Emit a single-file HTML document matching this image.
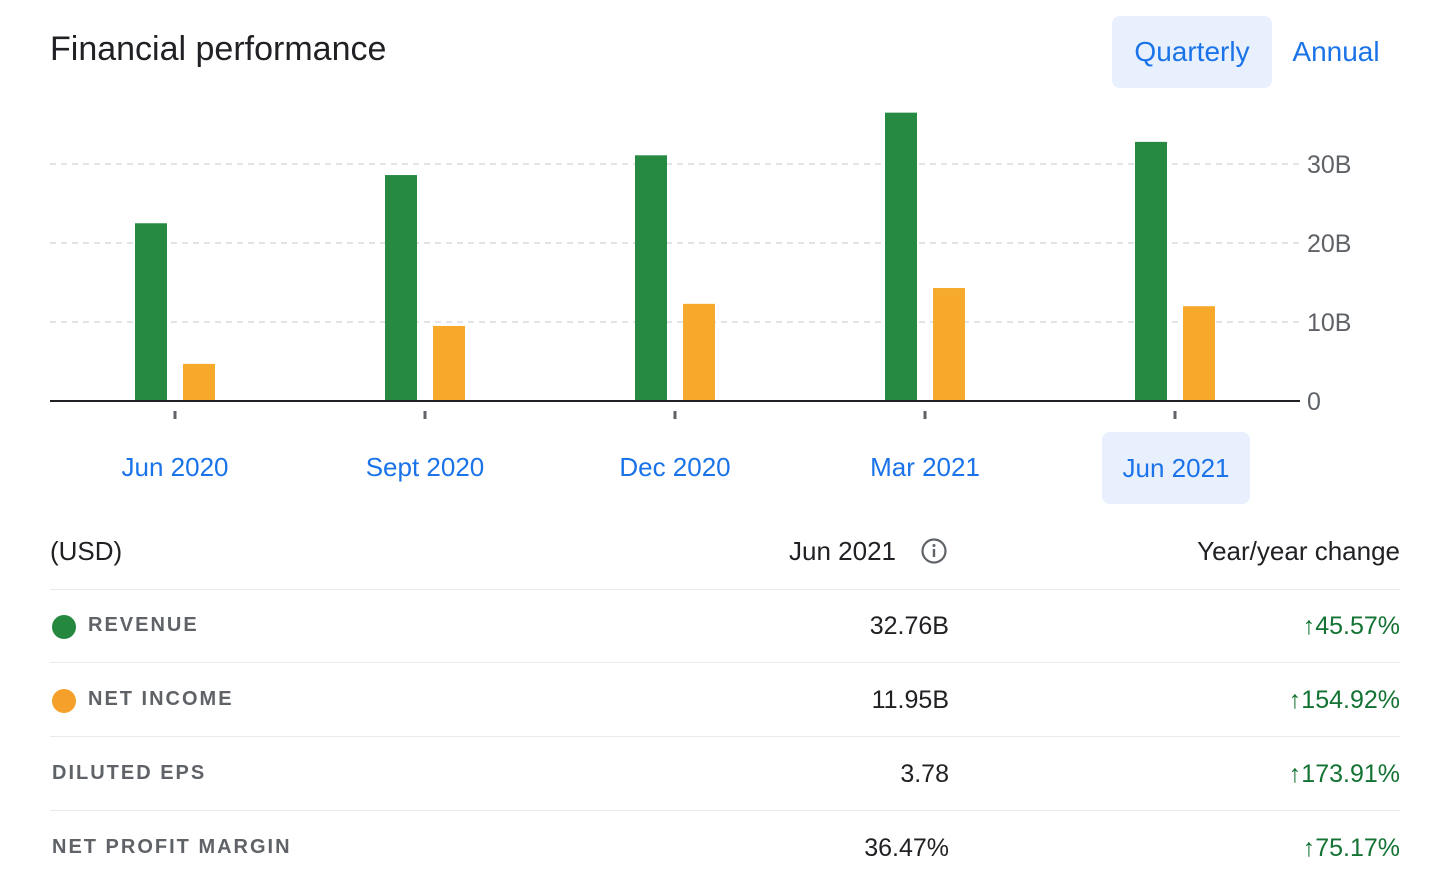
<!DOCTYPE html>
<html><head><meta charset="utf-8"><style>
body{margin:0;width:1454px;height:880px;background:#fff;font-family:"Liberation Sans",sans-serif;position:relative;overflow:hidden}
.a{position:absolute;white-space:nowrap}
.row{position:absolute;left:50px;width:1350px;height:1px;background:#e8eaed}
.lab{font-size:20px;letter-spacing:2px;color:#5f6368;font-weight:bold}
.val{font-size:25px;color:#202124;text-align:right}
.chg{font-size:25px;color:#137333;text-align:right}
.xl{font-size:26px;color:#1a73e8;text-align:center;width:200px}
</style></head><body>
<div class="a" style="left:50px;top:30px;font-size:34px;color:#202124">Financial performance</div>
<div class="a" style="left:1112px;top:16px;width:160px;height:72px;background:#e8f0fe;border-radius:8px;color:#1a73e8;font-size:28px;line-height:72px;text-align:center">Quarterly</div>
<div class="a" style="left:1280px;top:16px;width:112px;height:72px;color:#1a73e8;font-size:28px;line-height:72px;text-align:center">Annual</div>
<svg class="a" style="left:0;top:0" width="1454" height="520">
<g id="grid"></g><g id="bars"></g>
<line x1="50" y1="401" x2="1300" y2="401" stroke="#202124" stroke-width="2"/>
<g id="ticks"></g>
</svg>
<div id="xlabels"></div>
<div class="a" style="left:50px;top:536px;font-size:26px;color:#202124">(USD)</div>
<div class="a" style="left:789px;top:536px;font-size:26px;color:#202124">Jun 2021</div>
<svg class="a" style="left:920px;top:537px" width="28" height="28"><circle cx="14" cy="14" r="11.5" fill="none" stroke="#5f6368" stroke-width="2.2"/><rect x="12.8" y="12" width="2.4" height="8" fill="#5f6368"/><circle cx="14" cy="8.5" r="1.5" fill="#5f6368"/></svg>
<div class="a" style="right:54px;top:536px;font-size:26px;color:#202124">Year/year change</div>
<div class="row" style="top:589px"></div>
<div class="row" style="top:662px"></div>
<div class="row" style="top:736px"></div>
<div class="row" style="top:810px"></div>
<div class="a" style="left:52px;top:615px;width:24px;height:24px;border-radius:50%;background:#24883f"></div>
<div class="a lab" style="left:88px;top:614px">REVENUE</div>
<div class="a val" style="right:505px;top:612px">32.76B</div>
<div class="a chg" style="right:54px;top:612px">↑45.57%</div>
<div class="a" style="left:52px;top:689px;width:24px;height:24px;border-radius:50%;background:#f4a02a"></div>
<div class="a lab" style="left:88px;top:688px">NET INCOME</div>
<div class="a val" style="right:505px;top:686px">11.95B</div>
<div class="a chg" style="right:54px;top:686px">↑154.92%</div>
<div class="a lab" style="left:52px;top:762px">DILUTED EPS</div>
<div class="a val" style="right:505px;top:760px">3.78</div>
<div class="a chg" style="right:54px;top:760px">↑173.91%</div>
<div class="a lab" style="left:52px;top:836px">NET PROFIT MARGIN</div>
<div class="a val" style="right:505px;top:834px">36.47%</div>
<div class="a chg" style="right:54px;top:834px">↑75.17%</div>
<script>
const categories=["Jun 2020","Sept 2020","Dec 2020","Mar 2021","Jun 2021"];
const revenue=[22.5,28.6,31.1,36.5,32.8];
const netIncome=[4.7,9.5,12.3,14.3,12.0];
const yTicks=[0,10,20,30];
const yTickLabels=["0","10B","20B","30B"];
const NS="http://www.w3.org/2000/svg";
const y=v=>401-v*7.9;
const xc=i=>175+i*250;
const grid=document.getElementById('grid'),bars=document.getElementById('bars'),ticks=document.getElementById('ticks');
yTicks.forEach((t,i)=>{
 if(t>0){const l=document.createElementNS(NS,'line');
 l.setAttribute('x1',50);l.setAttribute('x2',1300);l.setAttribute('y1',y(t));l.setAttribute('y2',y(t));
 l.setAttribute('stroke','#dadce0');l.setAttribute('stroke-dasharray','6 5');l.setAttribute('stroke-width','1.5');
 
 
 grid.appendChild(l);}
 const tx=document.createElementNS(NS,'text');
 tx.setAttribute('x',1307);tx.setAttribute('y',y(t)+9);tx.setAttribute('font-size','25');tx.setAttribute('fill','#5f6368');
 tx.setAttribute('font-family','Liberation Sans, sans-serif');tx.textContent=yTickLabels[i];
 
 
 grid.appendChild(tx);
});
function bar(x,v,c,n){const r=document.createElementNS(NS,'rect');
 r.setAttribute('x',x);r.setAttribute('width',32);r.setAttribute('y',y(v));r.setAttribute('height',401-y(v));r.setAttribute('fill',c);
 
 
 bars.appendChild(r);}
const xl=document.getElementById('xlabels');
categories.forEach((c,i)=>{
 bar(xc(i)-40,revenue[i],'#268a43','revenue-bar');
 bar(xc(i)+8,netIncome[i],'#f7a92b','net-income-bar');
 const t=document.createElementNS(NS,'rect');
 t.setAttribute('x',xc(i)-1.5);t.setAttribute('y',411);t.setAttribute('width',3);t.setAttribute('height',8);t.setAttribute('fill','#5f6368');
 
 
 ticks.appendChild(t);
 const d=document.createElement('div');d.className='a xl';
 d.style.left=(xc(i)-100)+'px';d.style.top='452px';d.textContent=c;
 if(i===categories.length-1){d.style.left=(xc(i)-73)+'px';d.style.width='148px';d.style.top='432px';d.style.height='72px';d.style.lineHeight='72px';d.style.background='#e8f0fe';d.style.borderRadius='8px';}
 
 
 xl.appendChild(d);
});
</script>
</body></html>
